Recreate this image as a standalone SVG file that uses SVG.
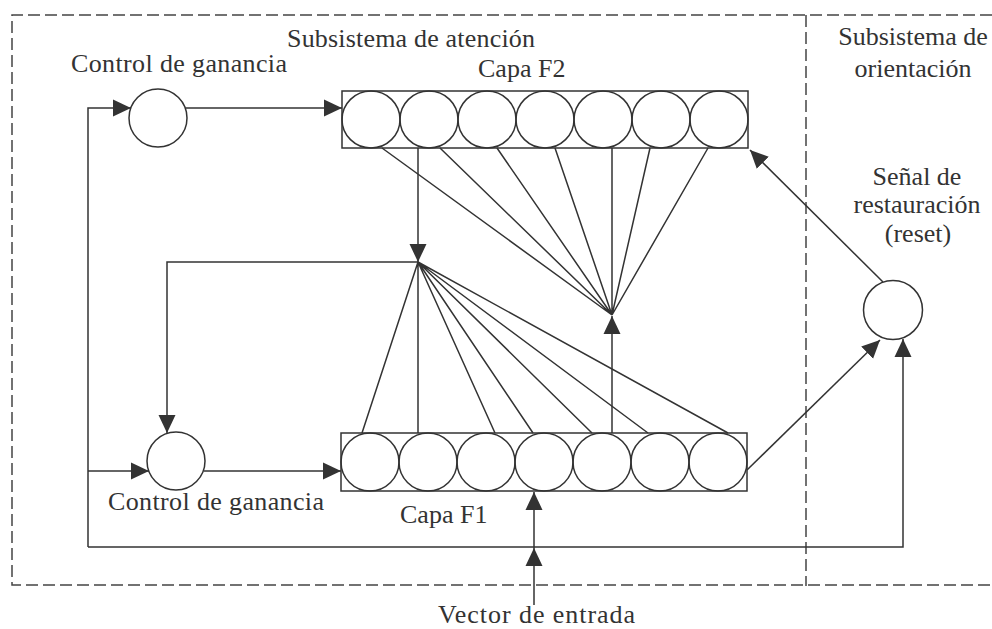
<svg xmlns="http://www.w3.org/2000/svg" width="992" height="629" viewBox="0 0 992 629">
  <defs>
    <marker id="arrow" markerUnits="userSpaceOnUse" markerWidth="18" markerHeight="18" viewBox="0 0 18 18" refX="18" refY="9" orient="auto">
      <path d="M0,0.5 L18,9 L0,17.5 Z" fill="#333"/>
    </marker>
    <style>
      .line { fill: none; stroke: #333; stroke-width: 1.5; }
      .dash { fill: none; stroke: #444; stroke-width: 1.5; stroke-dasharray: 12 5; }
      .cell { fill: none; stroke: #333; stroke-width: 1.5; }
      .box { fill: none; stroke: #333; stroke-width: 1.5; }
      .label { font-family: "Liberation Serif", "Times New Roman", serif; font-size: 26px; fill: #333; }
      .mid { text-anchor: middle; }
    </style>
  </defs>

  <rect width="992" height="629" fill="#ffffff"/>

  <!-- subsystem frames -->
  <g id="frames">
    <path class="dash" d="M992,15 H12 V585 H992"/>
    <path class="dash" d="M806,15 V586"/>
  </g>

  <!-- labels -->
  <g id="labels">
    <text class="label" x="287" y="47" textLength="248">Subsistema de atención</text>
    <text class="label" x="913" y="45" text-anchor="middle">Subsistema de</text>
    <text class="label" x="913" y="77" text-anchor="middle">orientación</text>
  </g>

  <!-- upper gain control -->
  <g id="gain-top">
    <circle class="cell" cx="158" cy="118" r="29"/>
    <text class="label" x="71" y="72" textLength="216">Control de ganancia</text>
  </g>

  <!-- lower gain control -->
  <g id="gain-bottom">
    <circle class="cell" cx="176" cy="461" r="29"/>
    <text class="label" x="108" y="510" textLength="216">Control de ganancia</text>
  </g>

  <!-- layer F2 -->
  <g id="layer-f2">
    <rect class="box" x="342" y="91" width="406" height="57"/>
    <ellipse class="cell" cx="371" cy="119.5" rx="29" ry="28.5"/>
    <ellipse class="cell" cx="429" cy="119.5" rx="29" ry="28.5"/>
    <ellipse class="cell" cx="487" cy="119.5" rx="29" ry="28.5"/>
    <ellipse class="cell" cx="545" cy="119.5" rx="29" ry="28.5"/>
    <ellipse class="cell" cx="603" cy="119.5" rx="29" ry="28.5"/>
    <ellipse class="cell" cx="661" cy="119.5" rx="29" ry="28.5"/>
    <ellipse class="cell" cx="719" cy="119.5" rx="29" ry="28.5"/>
    <text class="label" x="478" y="77">Capa F2</text>
  </g>

  <!-- layer F1 -->
  <g id="layer-f1">
    <rect class="box" x="341" y="433" width="406" height="58"/>
    <ellipse class="cell" cx="370" cy="462" rx="29" ry="29"/>
    <ellipse class="cell" cx="428" cy="462" rx="29" ry="29"/>
    <ellipse class="cell" cx="486" cy="462" rx="29" ry="29"/>
    <ellipse class="cell" cx="544" cy="462" rx="29" ry="29"/>
    <ellipse class="cell" cx="602" cy="462" rx="29" ry="29"/>
    <ellipse class="cell" cx="660" cy="462" rx="29" ry="29"/>
    <ellipse class="cell" cx="718" cy="462" rx="29" ry="29"/>
    <text class="label" x="400" y="523">Capa F1</text>
  </g>

  <!-- reset signal -->
  <g id="reset">
    <circle class="cell" cx="893" cy="310" r="29.5"/>
    <text class="label mid" x="917" y="185">Señal de</text>
    <text class="label mid" x="917" y="213">restauración</text>
    <text class="label mid" x="918" y="242">(reset)</text>
  </g>

  <!-- input vector -->
  <g id="input">
    <text class="label" x="438" y="623" textLength="197">Vector de entrada</text>
  </g>

  <!-- connectors -->
  <g id="connectors">
    <!-- gain controls -->
    <path class="line" d="M88,547 V108 H131" marker-end="url(#arrow)"/>
    <path class="line" d="M186,108 H342" marker-end="url(#arrow)"/>
    <path class="line" d="M88,471 H149" marker-end="url(#arrow)"/>
    <path class="line" d="M204,471 H341" marker-end="url(#arrow)"/>

    <!-- top-down path F2 to F1 -->
    <path class="line" d="M418,148 V262" marker-end="url(#arrow)"/>
    <path class="line" d="M418,262 H167 V433" marker-end="url(#arrow)"/>
    <path class="line" d="M418,262 L362,433 M418,262 L418,433 M418,262 L495,433 M418,262 L533,433 M418,262 L592,433 M418,262 L648,433 M418,262 L728,433"/>

    <!-- bottom-up path F1 to F2 -->
    <path class="line" d="M612,433 V316" marker-end="url(#arrow)"/>
    <path class="line" d="M612,315 L382,148 M612,315 L440,148 M612,315 L497,148 M612,315 L555,148 M612,315 L612,148 M612,315 L650,148 M612,315 L708,148"/>

    <!-- orienting subsystem -->
    <path class="line" d="M747,470 L880,340" marker-end="url(#arrow)"/>
    <path class="line" d="M883,282 L750,150" marker-end="url(#arrow)"/>
    <path class="line" d="M88,547 H903 V339" marker-end="url(#arrow)"/>

    <!-- input vector -->
    <path class="line" d="M534,605 V548" marker-end="url(#arrow)"/>
    <path class="line" d="M534,548 V492" marker-end="url(#arrow)"/>
  </g>
</svg>
